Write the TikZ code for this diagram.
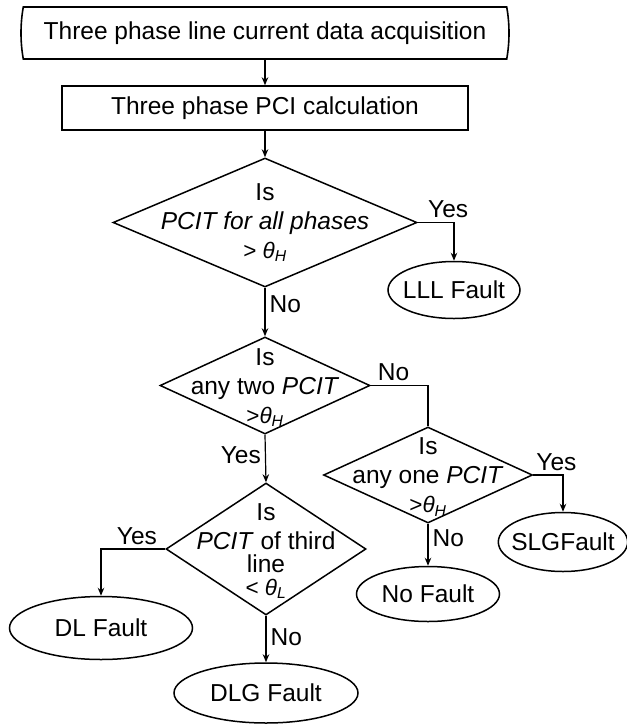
\documentclass[tikz,border=0pt]{standalone}
\usepackage{fontspec}
\setmainfont{Liberation Sans}
\usetikzlibrary{shapes.geometric,shapes.misc,arrows.meta}

\newcommand{\dtxt}[2][-7pt]{\smash{\makebox[0pt]{\raisebox{#1}{\begin{tabular}{@{}c@{}}#2\end{tabular}}}}}
\newcommand{\thr}[1]{{\fontsize{22.5}{27}\selectfont #1}}

\begin{document}
\begin{tikzpicture}[x=1pt, y=-1pt, >={Stealth[length=8pt,width=6.5pt]},
                    every node/.style={font=\fontsize{24.5}{29}\selectfont},
                    start node/.style={rounded rectangle, rounded rectangle arc length=20, draw, line width=1.6pt, minimum width=488pt, minimum height=52pt, inner sep=0pt},
                    box node/.style={rectangle, draw, line width=1.5pt, minimum width=406pt, minimum height=44pt, inner sep=0pt},
                    test node/.style={diamond, draw, line width=1.5pt, inner sep=0pt},
                    fault node/.style={ellipse, draw, line width=1.5pt, inner xsep=-6pt, inner ysep=0pt},
                    link/.style={draw, line width=1.2pt},
                    lbl/.style={inner sep=4pt},
                    turn/.style={to path={-| (\tikztotarget) \tikztonodes}}]

   \useasboundingbox (0,0) rectangle (627,724);

   \node[start node] (acq) at (265,33) {Three phase line current data acquisition};
   \node[box node] (pci) at (265,108) {Three phase PCI calculation};
   \node[test node, minimum width=304pt, minimum height=129pt] (d1) at (265,222.5)
      {\dtxt{Is\\\textit{PCIT for all phases}\\\thr{> \textit{θ\textsubscript{H}}}}};
   \node[fault node, minimum width=132pt, minimum height=57pt] (lll) at (454,290) {LLL Fault};
   \node[test node, minimum width=210pt, minimum height=97pt] (d2) at (265,385.5)
      {\dtxt[-9pt]{Is\\any two \textit{PCIT}\\\thr{>\textit{θ\textsubscript{H}}}}};
   \node[test node, minimum width=209pt, minimum height=96pt] (d3) at (428,475)
      {\dtxt[-9pt]{Is\\any one \textit{PCIT}\\\thr{>\textit{θ\textsubscript{H}}}}};
   \node[fault node, minimum width=128pt, minimum height=59pt] (slg) at (563,542) {SLGFault};
   \node[fault node, minimum width=143pt, minimum height=55pt] (nof) at (428,594) {No Fault};
   \node[test node, minimum width=200pt, minimum height=132pt] (d4) at (266,549)
      {\dtxt[-9pt]{Is\\\textit{PCIT} of third\\[-6pt]line\\[-6pt]\thr{< \textit{θ\textsubscript{L}}}}};
   \node[fault node, minimum width=183pt, minimum height=63pt] (dl) at (101,628) {DL Fault};
   \node[fault node, minimum width=184pt, minimum height=60pt] (dlg) at (266,693) {DLG Fault};

  \path[link, every node/.style={lbl, font=\fontsize{24.5}{29}\selectfont}]
    (acq.south) edge[->] (pci.north)
    (pci.south) edge[->] (d1.north)

    (d1.east) edge[->, turn] node[pos=0.42, above] {Yes} (lll.north)
    (d1.south) edge[->] node[pos=0.34, right] {No} (d2.north)

    (d2.east) edge[turn] node[pos=0.2, above] {No} (d3.north)
    (d2.south) edge[->] node[pos=0.43, left] {Yes} (d4.north)

    (d3.east) edge[->, turn] node[pos=0.39, above] {Yes} (slg.north)
    (d3.south) edge[->] node[pos=0.34, right] {No} (nof.north)

    (d4.west) edge[->, turn] node[pos=0.22, above] {Yes} (dl.north)
    (d4.south) edge[->] node[pos=0.46, right] {No} (dlg.north)
       ;

\end{tikzpicture}
\end{document}
